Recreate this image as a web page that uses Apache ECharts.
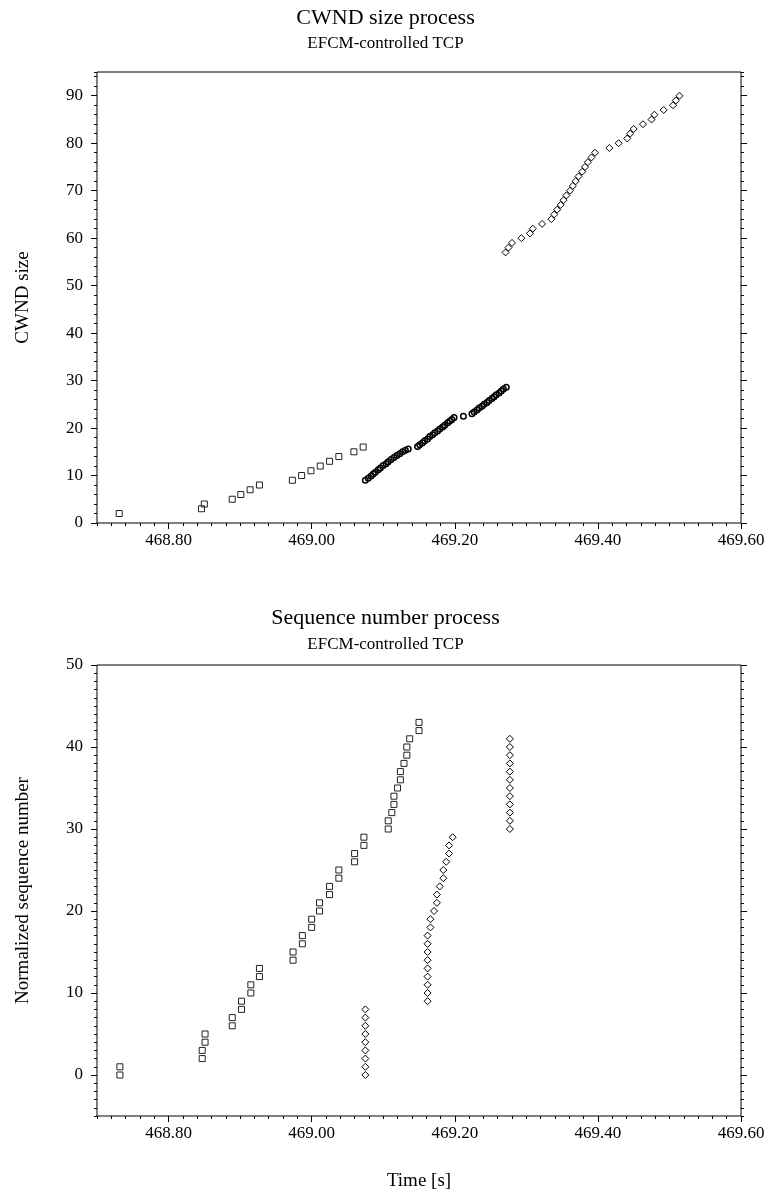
<!DOCTYPE html>
<html>
<head>
<meta charset="utf-8">
<script src="https://cdn.jsdelivr.net/npm/echarts@6/dist/echarts.min.js"></script>
<style>
html, body { margin: 0; padding: 0; background: #fff; }
#chart { width: 771px; height: 1193px; }
</style>
</head>
<body>
<div id="chart"></div>
<script>
// ---- CWND size process (top panel) ----
var cwndSquareTime = [468.731, 468.846, 468.850, 468.889, 468.901, 468.914, 468.927, 468.973, 468.986, 468.999, 469.012, 469.025, 469.038, 469.059, 469.072];
var cwndSquareSize = [2, 3, 4, 5, 6, 7, 8, 9, 10, 11, 12, 13, 14, 15, 16];

var cwndCircleTime = [469.075, 469.079, 469.083, 469.086, 469.089, 469.093, 469.096, 469.100, 469.104, 469.107, 469.111, 469.115, 469.119, 469.123, 469.127, 469.131, 469.135,
  469.148, 469.151, 469.155, 469.158, 469.162, 469.165, 469.169, 469.172, 469.176, 469.179, 469.183, 469.186, 469.190, 469.193, 469.196, 469.199,
  469.212,
  469.224, 469.227, 469.231, 469.234, 469.238, 469.241, 469.245, 469.248, 469.252, 469.255, 469.258, 469.262, 469.265, 469.268, 469.272];
var cwndCircleSize = [9.0, 9.4, 9.9, 10.3, 10.7, 11.2, 11.6, 12.1, 12.5, 12.9, 13.4, 13.8, 14.2, 14.6, 15.0, 15.3, 15.6,
  16.1, 16.5, 16.9, 17.3, 17.7, 18.2, 18.6, 19.0, 19.4, 19.8, 20.2, 20.6, 21.1, 21.5, 21.8, 22.2,
  22.5,
  23.0, 23.4, 23.8, 24.2, 24.6, 25.0, 25.4, 25.8, 26.2, 26.6, 27.0, 27.4, 27.8, 28.2, 28.6];

var cwndDiamondTime = [469.271, 469.275, 469.280, 469.293, 469.305, 469.309, 469.322,
  469.335, 469.339, 469.343, 469.348, 469.352, 469.356, 469.361, 469.365, 469.369, 469.373, 469.378, 469.382, 469.386, 469.391, 469.396,
  469.416, 469.429, 469.441, 469.445, 469.450, 469.463, 469.475, 469.479, 469.492, 469.505, 469.509, 469.514];
var cwndDiamondSize = [57, 58, 59, 60, 61, 62, 63,
  64, 65, 66, 67, 68, 69, 70, 71, 72, 73, 74, 75, 76, 77, 78,
  79, 80, 81, 82, 83, 84, 85, 86, 87, 88, 89, 90];

// ---- Sequence number process (bottom panel) ----
var seqSquareTime = [468.732, 468.732, 468.847, 468.847, 468.851, 468.851, 468.889, 468.889, 468.902, 468.902,
  468.915, 468.915, 468.927, 468.927, 468.974, 468.974, 468.987, 468.987, 469.000, 469.000,
  469.011, 469.011, 469.025, 469.025, 469.038, 469.038, 469.060, 469.060, 469.073, 469.073,
  469.107, 469.107, 469.112, 469.115, 469.115, 469.120, 469.124, 469.124, 469.129, 469.133, 469.133, 469.137, 469.150, 469.150];
var seqSquareNum = [0, 1, 2, 3, 4, 5, 6, 7, 8, 9,
  10, 11, 12, 13, 14, 15, 16, 17, 18, 19,
  20, 21, 22, 23, 24, 25, 26, 27, 28, 29,
  30, 31, 32, 33, 34, 35, 36, 37, 38, 39, 40, 41, 42, 43];

var seqDiamondTime = [469.075, 469.075, 469.075, 469.075, 469.075, 469.075, 469.075, 469.075, 469.075,
  469.162, 469.162, 469.162, 469.162, 469.162, 469.162, 469.162, 469.162, 469.162,
  469.166, 469.166, 469.171, 469.175, 469.175, 469.179, 469.184, 469.184, 469.188, 469.192, 469.192, 469.197,
  469.277, 469.277, 469.277, 469.277, 469.277, 469.277, 469.277, 469.277, 469.277, 469.277, 469.277, 469.277];
var seqDiamondNum = [0, 1, 2, 3, 4, 5, 6, 7, 8,
  9, 10, 11, 12, 13, 14, 15, 16, 17,
  18, 19, 20, 21, 22, 23, 24, 25, 26, 27, 28, 29,
  30, 31, 32, 33, 34, 35, 36, 37, 38, 39, 40, 41];

// tick labels
var timeLabels = [468.8, 469.0, 469.2, 469.4, 469.6];
var cwndLabels = [0, 10, 20, 30, 40, 50, 60, 70, 80, 90];
var seqLabels = [0, 10, 20, 30, 40, 50];

var FONT = '"Liberation Serif", "DejaVu Serif", serif';

function zip(t, v) {
  var out = [];
  for (var i = 0; i < t.length; i++) out.push([t[i], v[i]]);
  return out;
}

var chart = echarts.init(document.getElementById('chart'));

function timeAxes(gridIndex, name) {
  return [
    {
      gridIndex: gridIndex, type: 'value', position: 'bottom', min: 468.7, max: 469.6, interval: 0.02,
      axisLine: { show: false, onZero: false }, splitLine: { show: false },
      axisTick: { length: 3, lineStyle: { color: '#000' } },
      axisLabel: {
        customValues: timeLabels, formatter: function (v) { return v.toFixed(2); },
        fontFamily: FONT, fontSize: 17, color: '#000', margin: 9
      },
      name: name, nameLocation: 'middle', nameGap: 56,
      nameTextStyle: { fontFamily: FONT, fontSize: 19, color: '#000' }
    },
    {
      gridIndex: gridIndex, type: 'value', position: 'bottom', min: 468.7, max: 469.6,
      axisLine: { show: false, onZero: false }, splitLine: { show: false },
      axisTick: { length: 6, customValues: timeLabels, lineStyle: { color: '#000' } },
      axisLabel: { show: false }
    }
  ];
}

function valueAxes(gridIndex, min, max, step, labels, name) {
  var list = [];
  ['left', 'right'].forEach(function (pos) {
    list.push({
      gridIndex: gridIndex, type: 'value', position: pos, min: min, max: max, interval: step,
      axisLine: { show: false, onZero: false }, splitLine: { show: false },
      axisTick: { length: 3, lineStyle: { color: '#000' } },
      axisLabel: {
        show: pos === 'left', customValues: labels,
        fontFamily: FONT, fontSize: 17, color: '#000', margin: 14
      },
      name: pos === 'left' ? name : '', nameLocation: 'middle', nameGap: 64,
      nameTextStyle: { fontFamily: FONT, fontSize: 19, color: '#000' }
    });
    list.push({
      gridIndex: gridIndex, type: 'value', position: pos, min: min, max: max,
      axisLine: { show: false, onZero: false }, splitLine: { show: false },
      axisTick: { length: 6, customValues: labels, lineStyle: { color: '#000' } },
      axisLabel: { show: false }
    });
  });
  return list;
}

function hollow(symbol, size, data, xi, yi, bw, color) {
  return {
    type: 'scatter', xAxisIndex: xi, yAxisIndex: yi, symbol: symbol, symbolSize: size,
    data: data, silent: true,
    itemStyle: { color: 'rgba(0,0,0,0)', borderColor: color, borderWidth: bw, opacity: 1 }
  };
}

var titleStyle = { fontFamily: FONT, fontSize: 22, fontWeight: 'normal', color: '#000' };
var subStyle = { fontFamily: FONT, fontSize: 17, fontWeight: 'normal', color: '#000' };

var option = {
  animation: false,
  backgroundColor: '#fff',
  title: [
    { text: 'CWND size process', left: 'center', top: 2, textStyle: titleStyle },
    { text: 'EFCM-controlled TCP', left: 'center', top: 30, textStyle: subStyle },
    { text: 'Sequence number process', left: 'center', top: 602, textStyle: titleStyle },
    { text: 'EFCM-controlled TCP', left: 'center', top: 631, textStyle: subStyle }
  ],
  grid: [
    { left: 97, right: 30, top: 72, height: 451, show: true, borderColor: '#000', borderWidth: 1, backgroundColor: 'transparent' },
    { left: 97, right: 30, top: 665, height: 451, show: true, borderColor: '#000', borderWidth: 1, backgroundColor: 'transparent' }
  ],
  xAxis: timeAxes(0, '').concat(timeAxes(1, 'Time [s]')),
  yAxis: valueAxes(0, 0, 95, 2, cwndLabels, 'CWND size')
    .concat(valueAxes(1, -5, 50, 1, seqLabels, 'Normalized sequence number')),
  series: [
    hollow('rect', 6, zip(cwndSquareTime, cwndSquareSize), 0, 0, 1, '#222'),
    hollow('circle', 5.5, zip(cwndCircleTime, cwndCircleSize), 0, 0, 1.5, '#000'),
    hollow('diamond', 7, zip(cwndDiamondTime, cwndDiamondSize), 0, 0, 1, '#000'),
    hollow('rect', 6, zip(seqSquareTime, seqSquareNum), 2, 4, 1, '#222'),
    hollow('diamond', 7, zip(seqDiamondTime, seqDiamondNum), 2, 4, 1, '#000')
  ]
};

chart.setOption(option);
window.onresize = chart.resize;
</script>
</body>
</html>
